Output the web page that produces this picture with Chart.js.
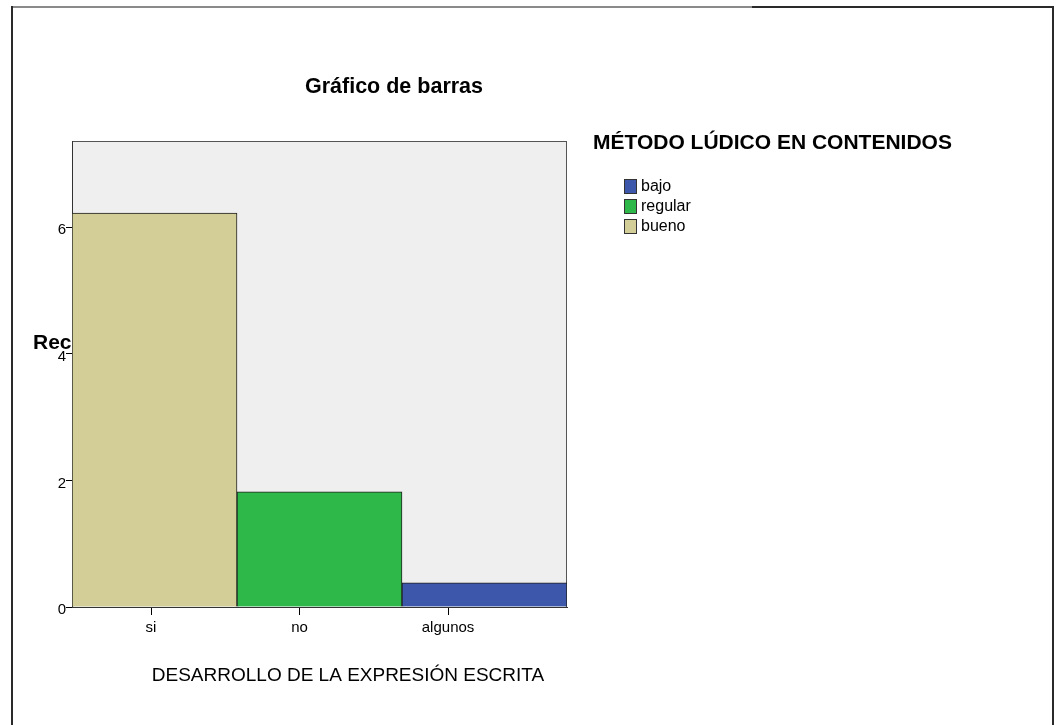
<!DOCTYPE html>
<html>
<head>
<meta charset="utf-8">
<script src="https://cdn.jsdelivr.net/npm/chart.js@4"></script>
<style>
html,body{margin:0;padding:0;background:#fff;}
canvas{display:block;}
</style>
</head>
<body>
<canvas id="c" width="1060" height="725"></canvas>
<script>
const categories = ['si', 'no', 'algunos'];
const seriesNames = ['bajo', 'regular', 'bueno'];
const bajoValues = [null, null, 0.38];
const regularValues = [null, 1.82, null];
const buenoValues = [6.22, null, null];
const yTickValues = [0, 2, 4, 6];
const seriesColors = ['#3d58aa', '#2eb84a', '#d3ce98'];

const chartTitle = 'Gráfico de barras';
const legendTitle = 'MÉTODO LÚDICO EN CONTENIDOS';
const xTitle = 'DESARROLLO DE LA EXPRESIÓN ESCRITA';
const yTitle = 'Recuento';

const FONT = 'Arial, "Liberation Sans", sans-serif';

function text(ctx, str, x, y, font, align) {
  ctx.font = font;
  ctx.textBaseline = 'middle';
  ctx.textAlign = align;
  ctx.fillText(str, x, y);
}

const decor = {
  id: 'decor',
  beforeDraw(chart) {
    const ctx = chart.ctx, a = chart.chartArea;
    ctx.save();
    ctx.fillStyle = '#fff';
    ctx.fillRect(0, 0, chart.width, chart.height);
    ctx.fillStyle = '#000';
    text(ctx, yTitle, 33, 343, 'bold 21px ' + FONT, 'left');
    ctx.fillStyle = '#efefef';
    ctx.fillRect(a.left, a.top, a.right - a.left, a.bottom - a.top);
    ctx.strokeStyle = '#555';
    ctx.lineWidth = 1;
    ctx.strokeRect(a.left + 0.5, a.top + 0.5, a.right - a.left - 1, a.bottom - a.top);
    ctx.restore();
  },
  afterDraw(chart) {
    const ctx = chart.ctx;
    ctx.save();
    ctx.lineWidth = 2;
    ctx.strokeStyle = '#8a8a8a';
    ctx.beginPath(); ctx.moveTo(11, 7); ctx.lineTo(752, 7); ctx.stroke();
    ctx.strokeStyle = '#2a2a2a';
    ctx.beginPath(); ctx.moveTo(752, 7); ctx.lineTo(1054, 7); ctx.stroke();
    ctx.beginPath(); ctx.moveTo(12, 6); ctx.lineTo(12, 725); ctx.stroke();
    ctx.beginPath(); ctx.moveTo(1053, 6); ctx.lineTo(1053, 725); ctx.stroke();
    ctx.fillStyle = '#000';
    text(ctx, chartTitle, 394, 87, 'bold 21.5px ' + FONT, 'center');
    text(ctx, xTitle, 348, 676, '19px ' + FONT, 'center');
    text(ctx, legendTitle, 593, 143, 'bold 21px ' + FONT, 'left');
    const ys = [186, 206, 226];
    chart.data.datasets.forEach((ds, i) => {
      ctx.fillStyle = ds.backgroundColor;
      ctx.fillRect(624, ys[i] - 7, 12, 14);
      ctx.strokeStyle = '#333';
      ctx.lineWidth = 1;
      ctx.strokeRect(624.5, ys[i] - 6.5, 12, 14);
      ctx.fillStyle = '#000';
      text(ctx, ds.label, 641, ys[i] + 1, '16px ' + FONT, 'left');
    });
    ctx.restore();
  }
};

const seriesData = [bajoValues, regularValues, buenoValues];

new Chart(document.getElementById('c'), {
  type: 'bar',
  data: {
    labels: categories,
    datasets: seriesNames.map((n, i) => ({
      label: n,
      data: seriesData[i],
      backgroundColor: seriesColors[i],
      borderColor: '#1e1e1e',
      borderWidth: 1,
      barPercentage: 1,
      categoryPercentage: 1,
      xAxisID: 'x',
      yAxisID: 'y'
    }))
  },
  options: {
    responsive: false,
    animation: false,
    events: [],
    layout: { padding: { left: 0, top: 141, right: 493, bottom: 0 } },
    plugins: { legend: { display: false }, title: { display: false }, tooltip: { enabled: false } },
    scales: {
      x: {
        type: 'category',
        stacked: true,
        display: false
      },
      xl: {
        type: 'linear',
        position: 'bottom',
        offset: false,
        min: 0.468,
        max: 3.801,
        afterBuildTicks: (s) => { s.ticks = categories.map((c, i) => ({ value: i + 1 })); },
        afterFit: (s) => { s.height = 118; },
        grid: { offset: false, drawOnChartArea: false, drawTicks: true, tickLength: 8, color: '#000', lineWidth: 1 },
        border: { display: true, color: '#333', width: 1 },
        ticks: {
          padding: 4,
          maxRotation: 0,
          autoSkip: false,
          color: '#000',
          font: { family: FONT, size: 15 },
          callback: (v) => categories[Math.round(v) - 1]
        }
      },
      y: {
        type: 'linear',
        stacked: true,
        min: 0,
        max: 7.36,
        afterBuildTicks: (s) => { s.ticks = yTickValues.map(v => ({ value: v })); },
        afterFit: (s) => { s.width = 72; },
        grid: { drawOnChartArea: false, drawTicks: true, tickLength: 6, color: '#000', lineWidth: 1 },
        border: { display: true, color: '#333', width: 1 },
        ticks: {
          padding: 0,
          labelOffset: 3,
          color: '#000',
          font: { family: FONT, size: 15 }
        }
      }
    }
  },
  plugins: [decor]
});
</script>
</body>
</html>
